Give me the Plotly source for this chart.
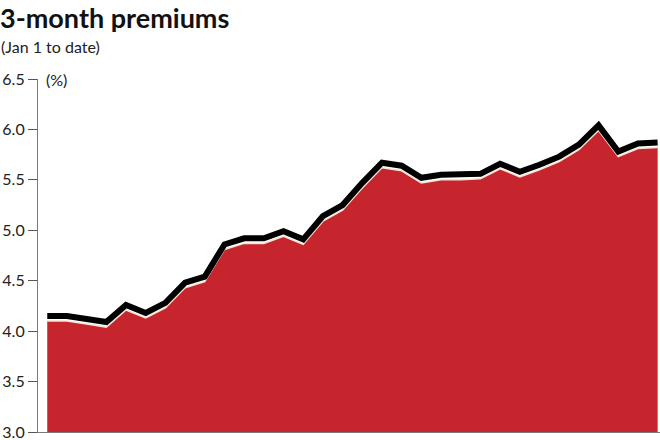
import plotly.graph_objects as go

# Data
days = list(range(32))
premium = [4.10, 4.10, 4.07, 4.04, 4.21, 4.13, 4.23, 4.43, 4.49, 4.81,
           4.87, 4.87, 4.94, 4.86, 5.09, 5.20, 5.42, 5.62, 5.59, 5.47,
           5.50, 5.50, 5.51, 5.61, 5.53, 5.60, 5.68, 5.80, 5.99, 5.73,
           5.81, 5.82]
y_ticks = [3.0, 3.5, 4.0, 4.5, 5.0, 5.5, 6.0, 6.5]
y_labels = ["3.0", "3.5", "4.0", "4.5", "5.0", "5.5", "6.0", "6.5"]

ML, MR, MT, MB = 38, 0, 79, 8
W, H = 660, 440
PW, PH = W - ML - MR, H - MT - MB

def px(x):
    return (x - ML) / PW

def py(y):
    return (H - MB - y) / PH

RED = "#c7252d"
FONT = "Lato"
shadow = 0.05

fig = go.Figure()
fig.add_trace(go.Scatter(
    x=days, y=premium, mode="lines", fill="tozeroy",
    fillcolor=RED, line=dict(color="#f4e4d6", width=1.5),
    hoverinfo="skip", showlegend=False))
fig.add_trace(go.Scatter(
    x=days, y=premium, mode="lines", yaxis="y2",
    line=dict(color="#000000", width=6),
    hoverinfo="skip", showlegend=False))

fig.update_layout(
    width=W, height=H,
    margin=dict(l=ML, r=MR, t=MT, b=MB),
    paper_bgcolor="white", plot_bgcolor="white",
    font=dict(family=FONT, color="#222222", size=15),
    xaxis=dict(range=[-0.47, 31.12], showgrid=False, zeroline=False,
               showticklabels=False, ticks="", showline=True,
               linecolor="#7a7a7a", linewidth=1.2, fixedrange=True),
    yaxis=dict(range=[3.0, 6.5], tickvals=y_ticks, ticktext=y_labels,
               showgrid=False, zeroline=False, ticks="outside", ticklen=9,
               tickcolor="#555555", tickwidth=1.2, showline=True,
               linecolor="#7a7a7a", linewidth=1.2, automargin=False,
               ticklabeloverflow="allow",
               tickfont=dict(family=FONT, size=16, color="#222222")),
    yaxis2=dict(range=[3.0 - shadow, 6.5 - shadow], overlaying="y",
                visible=False),
    annotations=[
        dict(text="<b>3-month premiums</b>", xref="paper", yref="paper",
             x=px(-2), y=py(18), xanchor="left", yanchor="middle",
             showarrow=False, font=dict(family=FONT, size=27, color="#111111")),
        dict(text="(Jan 1 to date)", xref="paper", yref="paper",
             x=px(-1), y=py(46), xanchor="left", yanchor="middle",
             showarrow=False, font=dict(family=FONT, size=16, color="#222222")),
        dict(text="(%)", xref="paper", yref="paper",
             x=px(44), y=py(79), xanchor="left", yanchor="middle",
             showarrow=False, font=dict(family=FONT, size=16, color="#222222")),
    ],
)

fig.write_html("out.html", config={"displayModeBar": False},
               post_script="document.body.style.margin='0';")
